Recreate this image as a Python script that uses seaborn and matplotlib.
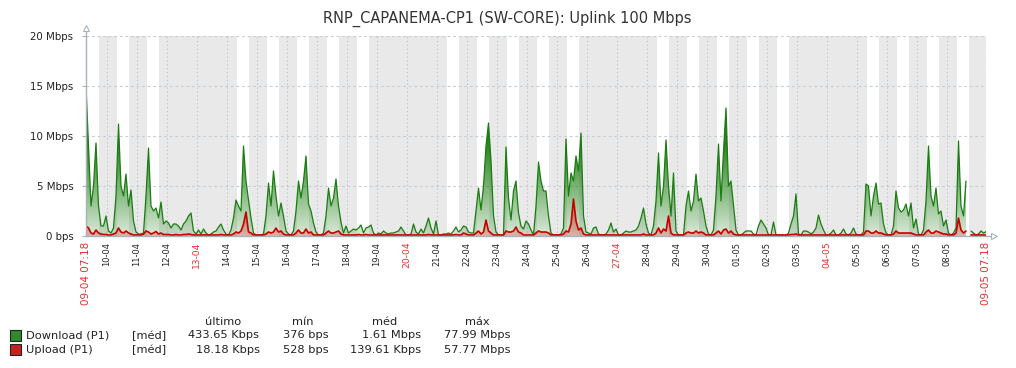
import numpy as np
import pandas as pd
import matplotlib.pyplot as plt
import seaborn as sns
from matplotlib.colors import to_rgb
from matplotlib.path import Path
from matplotlib.patches import Rectangle

nan = np.nan

title = "RNP_CAPANEMA-CP1 (SW-CORE): Uplink 100 Mbps"

# time axis in hours since 09-04 00:00, first sample 07:18, one sample every 2 h
start_hour = 7.3
step_hours = 2
span_hours = 720

all_days = ["09-04", "10-04", "11-04", "12-04", "13-04", "14-04", "15-04", "16-04",
            "17-04", "18-04", "19-04", "20-04", "21-04", "22-04", "23-04", "24-04",
            "25-04", "26-04", "27-04", "28-04", "29-04", "30-04", "01-05", "02-05",
            "03-05", "04-05", "05-05", "06-05", "07-05", "08-05", "09-05"]
red_days = ["13-04", "20-04", "27-04", "04-05"]
first_label = "09-04 07:18"
last_label = "09-05 07:18"

# shading: whole day for non-working days, otherwise outside 08-18
off_days = ["12-04", "13-04", "19-04", "20-04", "26-04", "27-04", "03-05", "04-05"]
work_hours = (8, 18)

# Mbps, 12 samples per day (07:18, 09:18, ... 05:18)
download = [
    15, 9, 3, 5, 9.3, 3, 1, 1, 2, 0.5, 0.3, 0.8,
    4, 11.2, 5, 4, 6.2, 3, 4.6, 1.5, 0.4, 0.2, 0.2, 0.3,
    4, 8.8, 3, 2.5, 2.8, 1.8, 3.4, 1.2, 1.5, 1.3, 0.8, 1.2,
    1.2, 1, 0.6, 1.2, 1.5, 2, 2.3, 0.5, 0.2, 0.6, 0.2, 0.7,
    0.3, 0.1, 0.2, 0.4, 0.5, 0.9, 1.2, 0.6, 0.2, 0.1, 0.6, 1.8,
    3.6, 3, 2.5, 9, 5.5, 3.6, 1.8, 0.3, 0.1, 0.1, 0.1, 0.2,
    2, 5.3, 3, 6.5, 4, 2, 3.3, 2, 0.5, 0.2, 0.1, 0.5,
    2.5, 5.5, 3.8, 5.5, 8, 3.2, 2.5, 1.3, 0.4, 0.1, 0.1, 0.3,
    2, 4.8, 3, 3.8, 5.7, 3, 1.4, 0.3, 1, 0.3, 0.5, 0.7,
    0.6, 0.8, 1.1, 0.3, 0.8, 0.9, 1.1, 0.3, 0.1, 0.3, 0.2, 0.5,
    0.3, 0.2, 0.3, 0.3, 0.4, 0.5, 0.9, 0.5, 0.1, 0.1, 0.2, 1.2,
    0.4, 0.2, 0.7, 0.3, 1, 1.8, 0.8, 0.2, 1.5, 0.1, 0.1, 0.2,
    0.2, 0.3, 0.2, 0.5, 0.9, 0.4, 0.6, 1, 0.9, 0.4, 0.3, 0.3,
    2.5, 4.8, 2.6, 5, 9, 11.3, 7.5, 2, 0.4, 0.1, 0.1, 0.1,
    8.9, 3.8, 1.6, 4.5, 5.5, 2.3, 1, 0.7, 1.5, 1.2, 0.6, 0.1,
    3, 7.4, 5.5, 4.5, 4.5, 2, 0.3, 0.1, 0.1, 0.1, 0.2, 0.8,
    9.7, 4, 6.3, 5.5, 8, 6.5, 10.3, 2, 0.4, 0.3, 0.2, 0.8,
    0.9, 0.2, 0.1, 0.1, 0.2, 0.6, 1.3, 0.4, 0.7, 0.1, 0.1, 0.3,
    0.5, 0.4, 0.4, 0.5, 0.6, 1, 1.8, 2.8, 1.2, 0.3, 0.1, 1,
    3.5, 8.3, 3, 5, 9.6, 5, 2, 6.3, 0.5, 0.1, 0.1, 0.1,
    3, 4.5, 2.5, 3.5, 6.2, 3.5, 3.8, 2.5, 1, 0.2, 0.1, 0.6,
    4, 9.2, 3.5, 8.5, 12.8, 5, 5.5, 3, 0.6, 0.1, 0.1, 0.3,
    0.5, 0.5, 0.5, 0.2, 0.1, 1, 1.6, 1.2, 0.8, 0.1, 0.1, 1.4,
    0.1, 0.1, 0.05, 0.05, 0.05, 0.3, 1.2, 2, 4.2, 0.2, 0.1, 0.5,
    0.5, 0.4, 0.2, 0.4, 0.8, 2.1, 1.2, 0.6, 0.1, 0.1, 0.3, 0.6,
    0.1, 0.1, 0.3, 0.7, 0.2, 0.1, 0.3, 0.8, 0.2, 0.1, 0.1, 0.4,
    5.2, 5, 2, 4, 5.3, 3.2, 3.3, 1.2, 0.3, 0.1, 0.1, 1,
    4.5, 2.8, 2.4, 2.6, 3.2, 2, 3.3, 0.8, 1.7, 0.2, 0.1, 0.6,
    3.5, 9, 4, 3, 4.8, 2.2, 2.5, 1, 1.6, 0.3, 0.1, 0.3,
    0.8, 9.5, 3, 2, 5.5, nan, 0.5, 0.3, 0.1, 0.2, 0.5, 0.3,
    0.43,
]

upload = [
    1.0, 0.8, 0.3, 0.2, 0.6, 0.3, 0.2, 0.15, 0.15, 0.1, 0.1, 0.2,
    0.3, 0.8, 0.4, 0.3, 0.5, 0.3, 0.2, 0.1, 0.1, 0.1, 0.1, 0.2,
    0.5, 0.4, 0.2, 0.3, 0.45, 0.2, 0.3, 0.15, 0.15, 0.15, 0.1, 0.1,
    0.15, 0.1, 0.1, 0.15, 0.15, 0.2, 0.15, 0.1, 0.1, 0.1, 0.1, 0.1,
    0.1, 0.1, 0.1, 0.1, 0.1, 0.1, 0.15, 0.1, 0.1, 0.1, 0.1, 0.2,
    0.4, 0.3, 0.5, 1.2, 2.4, 0.4, 0.3, 0.1, 0.1, 0.1, 0.1, 0.1,
    0.2, 0.4, 0.3, 0.4, 0.8, 0.4, 0.5, 0.2, 0.1, 0.1, 0.1, 0.1,
    0.3, 0.6, 0.3, 0.3, 0.7, 0.3, 0.4, 0.1, 0.1, 0.1, 0.1, 0.1,
    0.3, 0.5, 0.3, 0.3, 0.4, 0.5, 0.2, 0.1, 0.1, 0.1, 0.1, 0.1,
    0.1, 0.15, 0.1, 0.1, 0.15, 0.1, 0.1, 0.1, 0.1, 0.1, 0.1, 0.1,
    0.1, 0.1, 0.1, 0.1, 0.1, 0.1, 0.1, 0.1, 0.1, 0.1, 0.1, 0.1,
    0.1, 0.1, 0.1, 0.1, 0.1, 0.15, 0.1, 0.1, 0.1, 0.1, 0.1, 0.1,
    0.1, 0.1, 0.1, 0.1, 0.15, 0.1, 0.1, 0.3, 0.2, 0.1, 0.1, 0.1,
    0.3, 0.5, 0.2, 0.4, 1.6, 0.5, 0.3, 0.1, 0.1, 0.1, 0.1, 0.1,
    0.5, 0.4, 0.4, 0.5, 0.9, 0.4, 0.3, 0.1, 0.1, 0.1, 0.1, 0.1,
    0.3, 0.5, 0.4, 0.4, 0.4, 0.3, 0.1, 0.1, 0.1, 0.1, 0.1, 0.2,
    0.5, 0.4, 1.2, 3.7, 1.5, 0.6, 0.8, 0.2, 0.1, 0.1, 0.1, 0.1,
    0.1, 0.1, 0.1, 0.1, 0.1, 0.1, 0.1, 0.1, 0.1, 0.1, 0.1, 0.1,
    0.1, 0.1, 0.1, 0.1, 0.1, 0.1, 0.1, 0.2, 0.1, 0.1, 0.1, 0.1,
    0.3, 0.8, 0.3, 0.7, 0.5, 2.0, 0.3, 0.1, 0.1, 0.1, 0.1, 0.1,
    0.3, 0.4, 0.3, 0.3, 0.5, 0.3, 0.4, 0.3, 0.1, 0.1, 0.1, 0.1,
    0.3, 0.5, 0.2, 0.6, 0.7, 0.3, 0.5, 0.2, 0.1, 0.1, 0.1, 0.1,
    0.1, 0.1, 0.1, 0.1, 0.1, 0.1, 0.1, 0.1, 0.1, 0.1, 0.1, 0.1,
    0.1, 0.1, 0.1, 0.1, 0.1, 0.1, 0.15, 0.15, 0.2, 0.1, 0.1, 0.1,
    0.1, 0.1, 0.1, 0.1, 0.1, 0.1, 0.1, 0.1, 0.1, 0.1, 0.1, 0.1,
    0.1, 0.1, 0.1, 0.1, 0.1, 0.1, 0.1, 0.1, 0.1, 0.1, 0.1, 0.1,
    0.5, 0.5, 0.3, 0.3, 0.5, 0.3, 0.3, 0.2, 0.1, 0.1, 0.1, 0.2,
    0.5, 0.3, 0.3, 0.3, 0.3, 0.3, 0.3, 0.2, 0.1, 0.1, 0.1, 0.1,
    0.4, 0.6, 0.3, 0.3, 0.5, 0.4, 0.3, 0.2, 0.2, 0.1, 0.1, 0.1,
    0.3, 1.8, 0.6, 0.3, 0.5, nan, 0.1, 0.1, 0.1, 0.1, 0.1, 0.1,
    0.08,
]

yticks = [0, 5, 10, 15, 20]
ytick_labels = ["0 bps", "5 Mbps", "10 Mbps", "15 Mbps", "20 Mbps"]

series_names = ["Download (P1)", "Upload (P1)"]
series_colors = ["#1a7c11", "#c80000"]
legend_box_colors = ["#2e8a2a", "#c62020"]
stat_headers = ["último", "mín", "méd", "máx"]
last_vals = ["433.65 Kbps", "18.18 Kbps"]
min_vals = ["376 bps", "528 bps"]
avg_vals = ["1.61 Mbps", "139.61 Kbps"]
max_vals = ["77.99 Mbps", "57.77 Mbps"]

W, H = 1016, 368


def fx(px):
    return px / W


def fy(py):
    return 1 - py / H


def px_to_hours(px):
    return start_hour + (px - 86) / 900 * span_hours


df = pd.DataFrame({"download": download, "upload": upload})
df["hours"] = start_hour + step_hours * np.arange(len(df))
df["seg"] = df["download"].isna().cumsum()
x0, x1 = start_hour, start_hour + span_hours

sns.set_theme(style="white")
plt.rcParams["font.family"] = ["DejaVu Sans"]

fig = plt.figure(figsize=(W / 100, H / 100), dpi=100)
ax = fig.add_axes([fx(86), fy(236), 900 / W, 200 / H])

# gray shading for non working time
for d, day in enumerate(all_days):
    base = 24 * d
    if day in off_days:
        spans = [(base, base + 24)]
    else:
        spans = [(base, base + work_hours[0]), (base + work_hours[1], base + 24)]
    for a, b in spans:
        a, b = max(a, x0), min(b, x1)
        if b > a:
            ax.axvspan(a, b, color="#e9e9e9", lw=0, zorder=0)

# grid
ax.hlines(yticks[1:], x0, x1, colors="#c5ced7", lw=0.8, linestyles=(0, (2.5, 2.5)), zorder=1)
tick_pos = [24 * d for d in range(1, len(all_days) - 1)]
ax.vlines(tick_pos + [x1], 0, 20, colors="#b4c0cb", lw=0.8, linestyles=(0, (1, 2.5)), zorder=1)


def gradient_fill(x, y, color, a0, k, amax, zorder):
    coll = ax.fill_between(x, 0, y, facecolor="none", edgecolor="none")
    path = Path.make_compound_path(*coll.get_paths())
    levels = np.linspace(20, 0, 400)
    img = np.zeros((len(levels), 1, 4))
    img[..., :3] = to_rgb(color)
    img[:, 0, 3] = np.clip(a0 + k * levels, a0, amax)
    im = ax.imshow(img, extent=[x0, x1, 0, 20], origin="upper", aspect="auto",
                   interpolation="bilinear", zorder=zorder)
    im.set_clip_path(path, transform=ax.transData)


gradient_fill(df["hours"].values, df["download"].values, series_colors[0], 0.16, 0.085, 0.95, 2)
gradient_fill(df["hours"].values, df["upload"].values, series_colors[1], 0.22, 0.08, 0.55, 3)

clean = df.dropna()
sns.lineplot(data=clean, x="hours", y="download", units="seg", estimator=None,
             color=series_colors[0], lw=0.9, ax=ax, zorder=4)
sns.lineplot(data=clean, x="hours", y="upload", units="seg", estimator=None,
             color=series_colors[1], lw=1.2, ax=ax, zorder=5)

ax.set_xlim(x0, x1)
ax.set_ylim(0, 20)
ax.set_xlabel("")
ax.set_ylabel("")
for s in ax.spines.values():
    s.set_visible(False)

# axes with arrows
axis_col = "#a8b2bc"
ax.plot([x0, x0], [0, 20.7], color=axis_col, lw=1, clip_on=False, zorder=6)
ax.plot([x0, px_to_hours(991)], [0, 0], color=axis_col, lw=1, clip_on=False, zorder=6)
ax.plot(x0, 20.85, marker="^", ms=5, mfc="white", mec=axis_col, mew=0.8, clip_on=False, zorder=7)
ax.plot(px_to_hours(994), 0, marker=">", ms=5, mfc="white", mec=axis_col, mew=0.8, clip_on=False, zorder=7)

ax.set_yticks(yticks)
ax.set_yticklabels(ytick_labels)
ax.tick_params(axis="y", left=True, length=3, width=0.8, color=axis_col, pad=6,
               labelsize=7.4, labelcolor="#222222")

xt = [x0] + tick_pos + [x1]
xl = [first_label] + all_days[1:-1] + [last_label]
ax.set_xticks(xt)
ax.set_xticklabels(xl, rotation=90, va="top", ha="center")
ax.tick_params(axis="x", bottom=False, length=0, pad=4, labelcolor="#222222")
for lab in ax.get_xticklabels():
    txt = lab.get_text()
    if txt in (first_label, last_label):
        lab.set_color("#e8312f")
        lab.set_fontsize(7.5)
    elif txt in red_days:
        lab.set_color("#e8312f")
        lab.set_fontsize(6.6)
    else:
        lab.set_fontsize(6.0)

fig.text(fx(507), fy(19), title, ha="center", va="center", fontsize=10.5, color="#333333")

# legend table
fs = 8.2
header_x = [223, 302.5, 385, 477.5]
value_right = [259.5, 328.5, 421.5, 511]
for h, hx in zip(stat_headers, header_x):
    fig.text(fx(hx), fy(322), h, ha="center", va="center", fontsize=fs, color="#222222")
rows_y = [335.5, 350]
for i, name in enumerate(series_names):
    y = rows_y[i]
    fig.add_artist(Rectangle((fx(10), fy(y + 5)), 11 / W, 11 / H, transform=fig.transFigure,
                             facecolor=legend_box_colors[i], edgecolor="#222222", lw=0.8))
    fig.text(fx(26), fy(y), name, ha="left", va="center", fontsize=fs, color="#222222")
    fig.text(fx(132), fy(y), "[méd]", ha="left", va="center", fontsize=fs, color="#222222")
    for vals, rx in zip([last_vals, min_vals, avg_vals, max_vals], value_right):
        fig.text(fx(rx), fy(y), vals[i], ha="right", va="center", fontsize=fs, color="#222222")

fig.savefig("out.png", dpi=100)
